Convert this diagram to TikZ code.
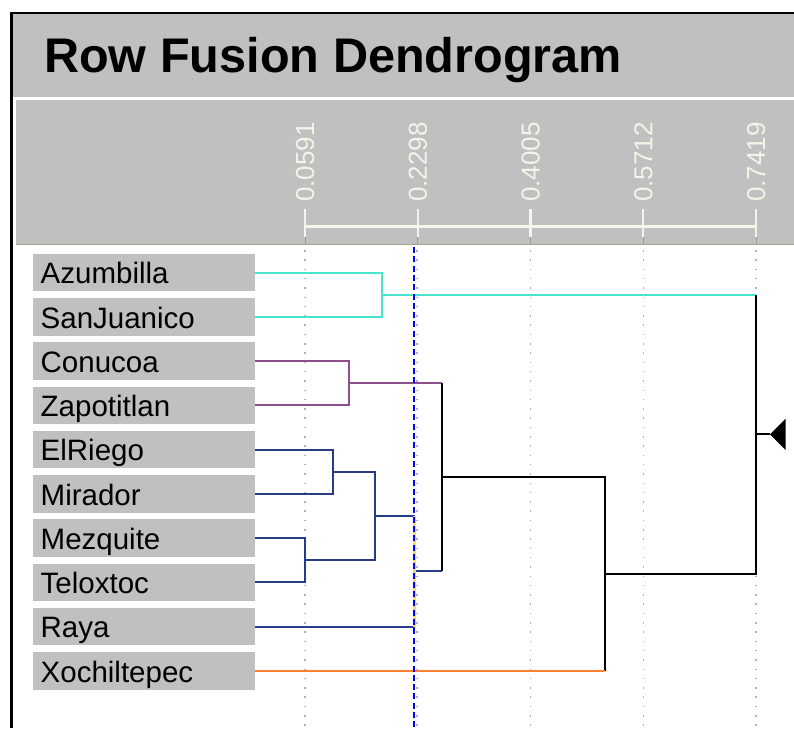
\documentclass[tikz,border=0pt]{standalone}
\usepackage{fontspec}
\setmainfont{Liberation Sans}
\definecolor{panelgray}{RGB}{192,192,192}
\definecolor{bandedge}{RGB}{168,160,144}
\definecolor{axiscol}{RGB}{244,244,232}
\definecolor{axisshade}{RGB}{160,156,140}
\definecolor{gridcol}{RGB}{176,176,176}
\definecolor{cyancol}{RGB}{72,228,204}
\definecolor{purpcol}{RGB}{140,80,140}
\definecolor{navycol}{RGB}{40,60,140}
\definecolor{orangecol}{RGB}{255,128,48}
\definecolor{yellcol}{RGB}{240,220,96}
\tikzset{
  lbl/.style={fill=panelgray, inner xsep=7.5pt, inner ysep=0pt, text width=207pt, align=left,
    minimum height=37.5pt, text height=22.6pt, text depth=0pt, font=\fontsize{29.5}{30}\selectfont},
  ticklbl/.style={rotate=90, anchor=base west, text=axiscol, inner sep=0pt, font=\fontsize{26}{26}\selectfont},
  conn/.style={line width=2pt},
  cyanln/.style={conn, draw=cyancol},
  purpln/.style={conn, draw=purpcol},
  navyln/.style={conn, draw=navycol},
  orangeln/.style={conn, draw=orangecol},
  yellln/.style={line width=2.5pt, draw=yellcol},
  blackln/.style={conn, draw=black},
  gridln/.style={draw=gridcol, line width=1.5pt, dash pattern=on 1.5pt off 7.8pt},
  cutln/.style={draw=blue, line width=2pt, dash pattern=on 6pt off 3.3pt}
}
\begin{document}
\begin{tikzpicture}[x=1pt,y=-1pt]
\useasboundingbox (0,0) rectangle (794,728);
\fill[white] (0,0) rectangle (794,728);
% frame
\fill[black] (10,11.5) rectangle (794,14);
\fill[black] (10,11.5) rectangle (13,728);
\fill[panelgray] (13,14) rectangle (794,97);
\fill[panelgray] (15.5,100) rectangle (794,244);
\draw[bandedge, line width=1.5pt] (15.5,244.5) -- (794,244.5);
% title
\node[anchor=base west, inner sep=0pt, font=\fontsize{48.6}{48.6}\selectfont\bfseries] (title) at (44,72) {Row Fusion Dendrogram};
% axis
\foreach \x in {305,417.75,530.5,643.25,756}{
  \draw[axisshade, line width=1pt] (\x,237) -- (\x,244);
}
\draw[axisshade, line width=3.5pt] (305,226.5) -- (756,226.5);
\draw[axiscol, line width=2.2pt] (305,226.5) -- (756,226.5);
\foreach \x in {305,417.75,530.5,643.25,756}{
  \draw[axiscol, line width=2.2pt] (\x,209) -- (\x,237);
}
\node[ticklbl] (t1) at (314,202) {0.0591};
\node[ticklbl] (t2) at (426.75,202) {0.2298};
\node[ticklbl] (t3) at (539.5,202) {0.4005};
\node[ticklbl] (t4) at (652.25,202) {0.5712};
\node[ticklbl] (t5) at (765,202) {0.7419};
% grid
\foreach \x in {305,417,530.5,643.25,756}{
  \draw[gridln] (\x,250) -- (\x,728);
}
% labels
\node[lbl] (n0) at (144.2,272.5) {Azumbilla};
\node[lbl] (n1) at (144.2,316.75) {SanJuanico};
\node[lbl] (n2) at (144.2,361) {Conucoa};
\node[lbl] (n3) at (144.2,405.25) {Zapotitlan};
\node[lbl] (n4) at (144.2,449.5) {ElRiego};
\node[lbl] (n5) at (144.2,493.75) {Mirador};
\node[lbl] (n6) at (144.2,538) {Mezquite};
\node[lbl] (n7) at (144.2,582.25) {Teloxtoc};
\node[lbl] (n8) at (144.2,626.5) {Raya};
\node[lbl] (n9) at (144.2,670.75) {Xochiltepec};
% joins
\coordinate (cA) at (381.5,294.6);
\coordinate (cB) at (349,383.1);
\coordinate (cC) at (332.7,471.6);
\coordinate (cD) at (304.5,560.1);
\coordinate (cE) at (375,515.9);
\coordinate (cF) at (414.5,571.2);
\coordinate (cG) at (441.5,477.2);
\coordinate (cH) at (605,574);
\coordinate (cR) at (756,434.3);
\coordinate (tip) at (770,434.3);
\draw[cyanln] (n0.east) -| (cA) |- (n1.east);
\draw[purpln] (n2.east) -| (cB) |- (n3.east);
\draw[navyln] (n4.east) -| (cC) |- (n5.east);
\draw[navyln] (n6.east) -| (cD) |- (n7.east);
\draw[navyln] (cC) -| (cE) |- (cD);
\draw[navyln] (cE) -- (cE -| cF);
\draw[navyln] (n8.east) -- (n8.east -| cF);
\draw[navyln] (cF) -- (cF -| cG);
\draw[purpln] (cB) -- (cB -| cG);
\draw[blackln] (cF -| cG) -- (cB -| cG);
\draw[blackln] (cG) -- (cG -| cH) -- (n9.east -| cH);
\draw[orangeln] (n9.east) -- (n9.east -| cH);
\draw[cyanln] (cA) -- (cA -| cR);
\draw[blackln] (cH) -- (cH -| cR) -- (cA -| cR);
\draw[blackln] (cR) -- (tip);
\fill[black] (tip) -- ++(15.5,-15.5) -- ++(0,31) -- cycle;
\draw[yellln] (cE -| cF) -- (n8.east -| cF);
% cut line
\coordinate (cutTop) at (413.8,247);
\coordinate (cutBot) at (413.8,728);
\draw[cutln] (cutTop) -- (cutBot);
\end{tikzpicture}
\end{document}
